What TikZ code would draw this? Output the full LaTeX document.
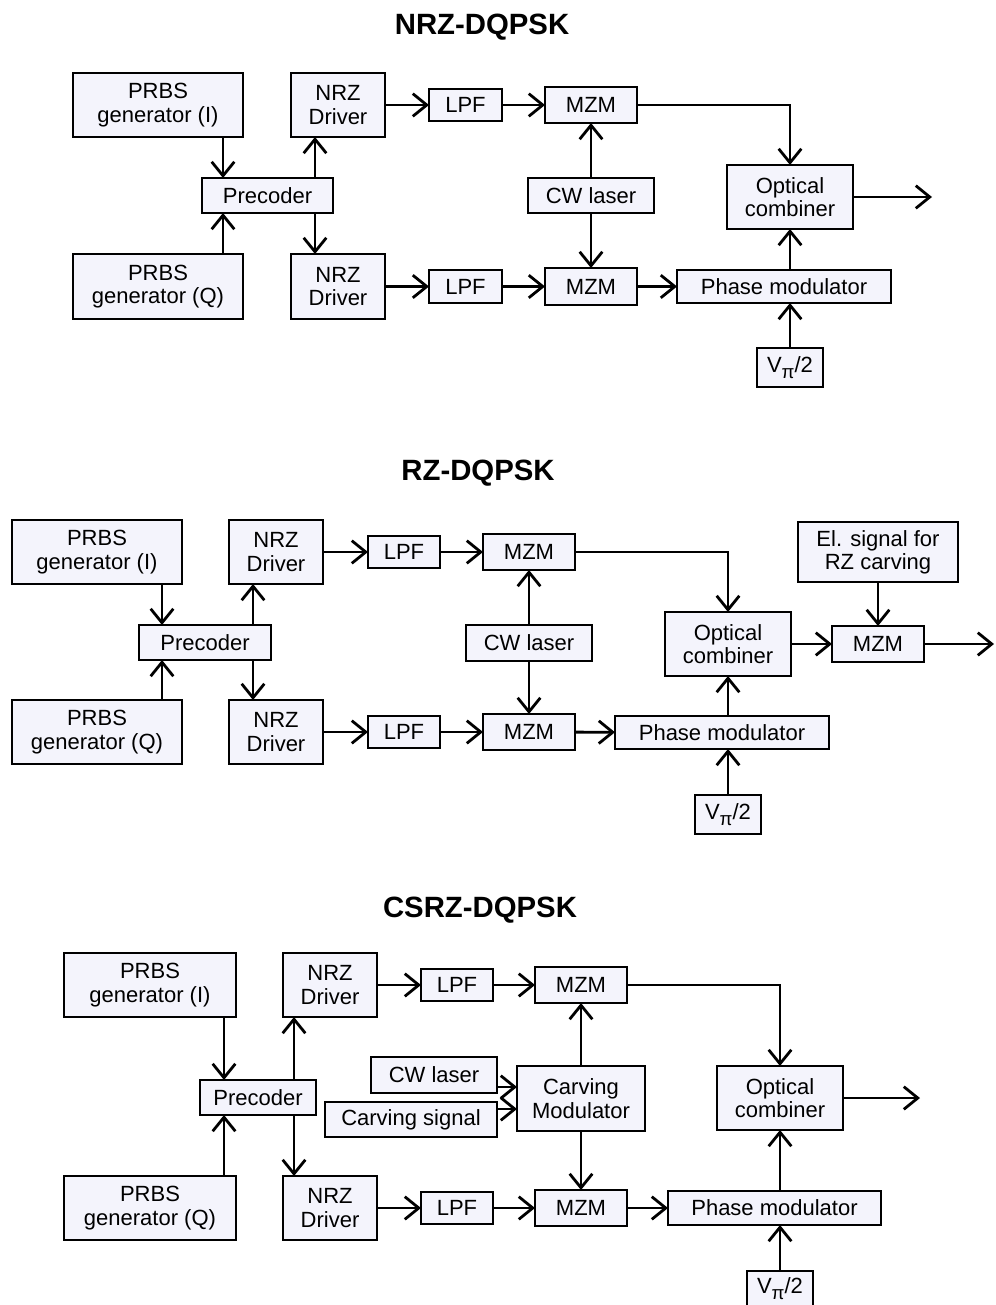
\documentclass[tikz,border=0pt]{standalone}
\usepackage{fontspec}
\setmainfont{Liberation Sans}
\usetikzlibrary{arrows.meta}

\definecolor{boxfill}{RGB}{244,244,252}

% a block given by its corner coordinates (x1,y1) (x2,y2), y growing downward
\newcommand\blk[6]{\node[blk, minimum width={(#5-#3)*0.75pt}, minimum height={(#6-#4)*0.75pt}]
  (#1) at ({(#3+#5)/2},{(#4+#6)/2}) {#2};}
\newcommand\vpi{V\raisebox{-0.5ex}{\fontsize{14}{14}\selectfont π}/2}

\tikzset{
  blk/.style={draw, line width=2.2pt, fill=boxfill, inner sep=0pt, outer sep=0pt,
    align=center, font=\fontsize{16.5}{17.5}\selectfont},
  arr/.style={line width=2.1pt, -{Straight Barb[length=10.5pt,width=17pt,line width=2.1pt]}},
  ttl/.style={font=\fontsize{22}{24}\selectfont\bfseries, inner sep=0pt}
}

\begin{document}
\begin{tikzpicture}[x=0.75pt, y=-0.75pt]
\useasboundingbox (0,0) rectangle (995,1305);

% ---------------- NRZ-DQPSK ----------------
\node[ttl] (t1) at (482,27) {NRZ-DQPSK};
\blk{pi1}{PRBS\\generator (I)}{73}{73}{243}{137}
\blk{pq1}{PRBS\\generator (Q)}{73}{254}{243}{319}
\blk{pre1}{Precoder}{202}{178}{333}{213}
\blk{nd1}{NRZ\\Driver}{291}{73}{385}{137}
\blk{ndq1}{NRZ\\Driver}{291}{254}{385}{319}
\blk{lpf1}{LPF}{429}{89}{502}{121}
\blk{lpfq1}{LPF}{429}{270}{502}{303}
\blk{mzm1}{MZM}{545}{87}{637}{123}
\blk{mzmq1}{MZM}{545}{268}{637}{305}
\blk{cw1}{CW laser}{528}{178}{654}{213}
\blk{pm1}{Phase modulator}{677}{270}{891}{303}
\blk{oc1}{Optical\\combiner}{727}{165}{853}{229}
\blk{vp1}{\vpi}{757}{348}{823}{387}
\coordinate (a1) at (223,0);
\coordinate (b1) at (315,0);
\coordinate (out1) at (932,197);

\draw[arr] (pi1.south -| a1) -- (pre1.north -| a1);
\draw[arr] (pq1.north -| a1) -- (pre1.south -| a1);
\draw[arr] (pre1.north -| b1) -- (nd1.south -| b1);
\draw[arr] (pre1.south -| b1) -- (ndq1.north -| b1);
\draw[arr] (nd1) -- (lpf1);
\draw[arr] (lpf1) -- (mzm1);
\draw[arr] (ndq1) -- (lpfq1);
\draw[arr] (lpfq1) -- (mzmq1);
\draw[arr] (mzmq1) -- (pm1);
\draw[arr] (cw1) -- (mzm1);
\draw[arr] (cw1) -- (mzmq1);
\draw[arr] (mzm1.east) -| (oc1.north);
\draw[arr] (pm1.north -| oc1.south) -- (oc1.south);
\draw[arr] (vp1) -- (pm1.south -| vp1);
\draw[arr] (oc1.east) -- (out1);

% ---------------- RZ-DQPSK ----------------
\node[ttl] (t2) at (478,473) {RZ-DQPSK};
\blk{pi2}{PRBS\\generator (I)}{12}{520}{182}{584}
\blk{pq2}{PRBS\\generator (Q)}{12}{700}{182}{764}
\blk{pre2}{Precoder}{139}{625}{271}{660}
\blk{nd2}{NRZ\\Driver}{229}{520}{323}{584}
\blk{ndq2}{NRZ\\Driver}{229}{700}{323}{764}
\blk{lpf2}{LPF}{368}{536}{440}{568}
\blk{lpfq2}{LPF}{368}{716}{440}{748}
\blk{mzm2}{MZM}{483}{534}{575}{570}
\blk{mzmq2}{MZM}{483}{714}{575}{750}
\blk{cw2}{CW laser}{466}{625}{592}{661}
\blk{pm2}{Phase modulator}{615}{716}{829}{749}
\blk{oc2}{Optical\\combiner}{665}{612}{791}{676}
\blk{vp2}{\vpi}{695}{795}{761}{834}
\blk{el2}{El. signal for\\RZ carving}{798}{522}{958}{582}
\blk{rz2}{MZM}{832}{626}{924}{662}
\coordinate (a2) at (162,0);
\coordinate (b2) at (253,0);
\coordinate (out2) at (994,644);

\draw[arr] (pi2.south -| a2) -- (pre2.north -| a2);
\draw[arr] (pq2.north -| a2) -- (pre2.south -| a2);
\draw[arr] (pre2.north -| b2) -- (nd2.south -| b2);
\draw[arr] (pre2.south -| b2) -- (ndq2.north -| b2);
\draw[arr] (nd2) -- (lpf2);
\draw[arr] (lpf2) -- (mzm2);
\draw[arr] (ndq2) -- (lpfq2);
\draw[arr] (lpfq2) -- (mzmq2);
\draw[arr] (mzmq2) -- (pm2);
\draw[arr] (cw2) -- (mzm2);
\draw[arr] (cw2) -- (mzmq2);
\draw[arr] (mzm2.east) -| (oc2.north);
\draw[arr] (pm2.north -| oc2.south) -- (oc2.south);
\draw[arr] (vp2) -- (pm2.south -| vp2);
\draw[arr] (oc2) -- (rz2);
\draw[arr] (el2.south -| rz2.north) -- (rz2.north);
\draw[arr] (rz2.east) -- (out2);

% ---------------- CSRZ-DQPSK ----------------
\node[ttl] (t3) at (480,910) {CSRZ-DQPSK};
\blk{pi3}{PRBS\\generator (I)}{64}{953}{236}{1017}
\blk{pq3}{PRBS\\generator (Q)}{64}{1176}{236}{1240}
\blk{pre3}{Precoder}{200}{1080}{316}{1115}
\blk{nd3}{NRZ\\Driver}{283}{953}{377}{1017}
\blk{ndq3}{NRZ\\Driver}{283}{1176}{377}{1240}
\blk{lpf3}{LPF}{421}{969}{493}{1001}
\blk{lpfq3}{LPF}{421}{1192}{493}{1224}
\blk{mzm3}{MZM}{535}{967}{627}{1003}
\blk{mzmq3}{MZM}{535}{1190}{627}{1226}
\blk{cw3}{CW laser}{371}{1057}{497}{1093}
\blk{cs3}{Carving signal}{325}{1102}{497}{1137}
\blk{cm3}{Carving\\Modulator}{517}{1066}{645}{1131}
\blk{pm3}{Phase modulator}{668}{1191}{881}{1225}
\blk{oc3}{Optical\\combiner}{717}{1066}{843}{1130}
\blk{vp3}{\vpi}{747}{1271}{813}{1306}
\coordinate (a3) at (224,0);
\coordinate (b3) at (294,0);
\coordinate (c3) at (0,1087);
\coordinate (d3) at (0,1109);
\coordinate (out3) at (920,1098);

\draw[arr] (pi3.south -| a3) -- (pre3.north -| a3);
\draw[arr] (pq3.north -| a3) -- (pre3.south -| a3);
\draw[arr] (pre3.north -| b3) -- (nd3.south -| b3);
\draw[arr] (pre3.south -| b3) -- (ndq3.north -| b3);
\draw[arr] (nd3) -- (lpf3);
\draw[arr] (lpf3) -- (mzm3);
\draw[arr] (ndq3) -- (lpfq3);
\draw[arr] (lpfq3) -- (mzmq3);
\draw[arr] (mzmq3) -- (pm3);
\draw[arr] (cw3.east |- c3) -- (cm3.west |- c3);
\draw[arr] (cs3.east |- d3) -- (cm3.west |- d3);
\draw[arr] (cm3) -- (mzm3);
\draw[arr] (cm3) -- (mzmq3);
\draw[arr] (mzm3.east) -| (oc3.north);
\draw[arr] (pm3.north -| oc3.south) -- (oc3.south);
\draw[arr] (vp3) -- (pm3.south -| vp3);
\draw[arr] (oc3.east) -- (out3);
\end{tikzpicture}
\end{document}
